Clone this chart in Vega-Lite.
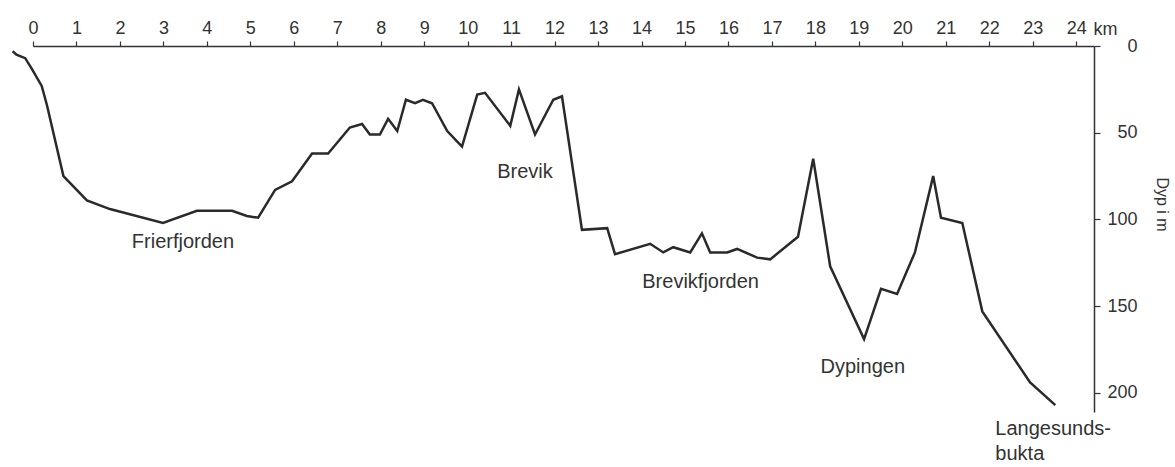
{
  "$schema": "https://vega.github.io/schema/vega-lite/v6.json",
  "width": 1061,
  "height": 366,
  "autosize": "none",
  "padding": {"left": 33, "top": 46, "right": 81, "bottom": 55},
  "background": "white",
  "config": {
    "view": {"stroke": null},
    "font": "Liberation Sans",
    "axis": {"grid": false, "domainColor": "#333", "tickColor": "#333", "labelColor": "#333", "titleColor": "#333", "titleFontWeight": "normal", "domainWidth": 1.5, "tickWidth": 1.2}
  },
  "datasets": {
    "profile": [
      {"km": -0.47, "depth": 3}, {"km": -0.38, "depth": 5}, {"km": -0.18, "depth": 7},
      {"km": -0.03, "depth": 13}, {"km": 0.2, "depth": 23}, {"km": 0.32, "depth": 34},
      {"km": 0.7, "depth": 75}, {"km": 1.24, "depth": 89}, {"km": 1.77, "depth": 94},
      {"km": 2.99, "depth": 102}, {"km": 3.77, "depth": 95}, {"km": 4.58, "depth": 95},
      {"km": 4.92, "depth": 98}, {"km": 5.18, "depth": 99}, {"km": 5.57, "depth": 83},
      {"km": 5.96, "depth": 78}, {"km": 6.42, "depth": 62}, {"km": 6.79, "depth": 62},
      {"km": 7.29, "depth": 47}, {"km": 7.57, "depth": 45}, {"km": 7.75, "depth": 51},
      {"km": 7.98, "depth": 51}, {"km": 8.17, "depth": 42}, {"km": 8.38, "depth": 49},
      {"km": 8.58, "depth": 31}, {"km": 8.79, "depth": 33}, {"km": 8.97, "depth": 31},
      {"km": 9.18, "depth": 33}, {"km": 9.53, "depth": 49}, {"km": 9.87, "depth": 58},
      {"km": 10.22, "depth": 28}, {"km": 10.4, "depth": 27}, {"km": 10.98, "depth": 46},
      {"km": 11.18, "depth": 25}, {"km": 11.55, "depth": 51}, {"km": 11.97, "depth": 31},
      {"km": 12.17, "depth": 29}, {"km": 12.63, "depth": 106}, {"km": 13.21, "depth": 105},
      {"km": 13.39, "depth": 120}, {"km": 14.2, "depth": 114}, {"km": 14.5, "depth": 119},
      {"km": 14.73, "depth": 116}, {"km": 15.12, "depth": 119}, {"km": 15.39, "depth": 108},
      {"km": 15.58, "depth": 119}, {"km": 15.97, "depth": 119}, {"km": 16.2, "depth": 117},
      {"km": 16.66, "depth": 122}, {"km": 16.96, "depth": 123}, {"km": 17.6, "depth": 110},
      {"km": 17.95, "depth": 65}, {"km": 18.34, "depth": 127}, {"km": 19.12, "depth": 169},
      {"km": 19.51, "depth": 140}, {"km": 19.88, "depth": 143}, {"km": 20.29, "depth": 119},
      {"km": 20.71, "depth": 75}, {"km": 20.89, "depth": 99}, {"km": 21.38, "depth": 102},
      {"km": 21.84, "depth": 153}, {"km": 22.94, "depth": 194}, {"km": 23.52, "depth": 207}
    ],
    "names": [
      {"km": 3.45, "depth": 116.4, "name": "Frierfjorden"},
      {"km": 11.32, "depth": 76, "name": "Brevik"},
      {"km": 15.36, "depth": 139.5, "name": "Brevikfjorden"},
      {"km": 19.09, "depth": 188.5, "name": "Dypingen"}
    ],
    "names2": [
      {"km": 22.14, "depth": 224.2, "name": "Langesunds-\nbukta"}
    ]
  },
  "encoding": {
    "x": {
      "field": "km", "type": "quantitative",
      "scale": {"domain": [0, 24.41], "nice": false, "zero": false},
      "axis": {
        "orient": "top", "values": [0,1,2,3,4,5,6,7,8,9,10,11,12,13,14,15,16,17,18,19,20,21,22,23,24],
        "format": "d", "labelFontSize": 18, "tickSize": 5, "labelPadding": 4,
        "labelFlush": false, "labelOverlap": false,
        "title": "km", "titleFontSize": 18, "titleX": 1060, "titleY": -12,
        "titleAlign": "left", "titleBaseline": "alphabetic", "titleAnchor": null
      }
    },
    "y": {
      "field": "depth", "type": "quantitative",
      "scale": {"domain": [0, 211], "nice": false, "zero": false, "reverse": true},
      "axis": {
        "orient": "right", "values": [0, 50, 100, 150, 200], "labelFontSize": 18,
        "tickSize": 6, "labelPadding": 37, "labelAlign": "right", "labelFlush": false,
        "title": "Dyp i m", "titleFontSize": 16, "titleAngle": 90, "titleX": 67, "titleY": 158,
        "titleAlign": "center", "titleBaseline": "middle"
      }
    }
  },
  "layer": [
    {
      "data": {"name": "profile"},
      "mark": {"type": "line", "color": "#2a2a2a", "strokeWidth": 2.5, "clip": false, "strokeJoin": "miter"}
    },
    {
      "data": {"name": "names"},
      "mark": {"type": "text", "fontSize": 20, "color": "#333", "baseline": "alphabetic", "align": "center", "clip": false},
      "encoding": {"text": {"field": "name"}}
    },
    {
      "data": {"name": "names2"},
      "mark": {"type": "text", "fontSize": 20, "color": "#333", "baseline": "alphabetic", "align": "left", "lineBreak": "\n", "lineHeight": 25, "clip": false},
      "encoding": {"text": {"field": "name"}}
    }
  ]
}
